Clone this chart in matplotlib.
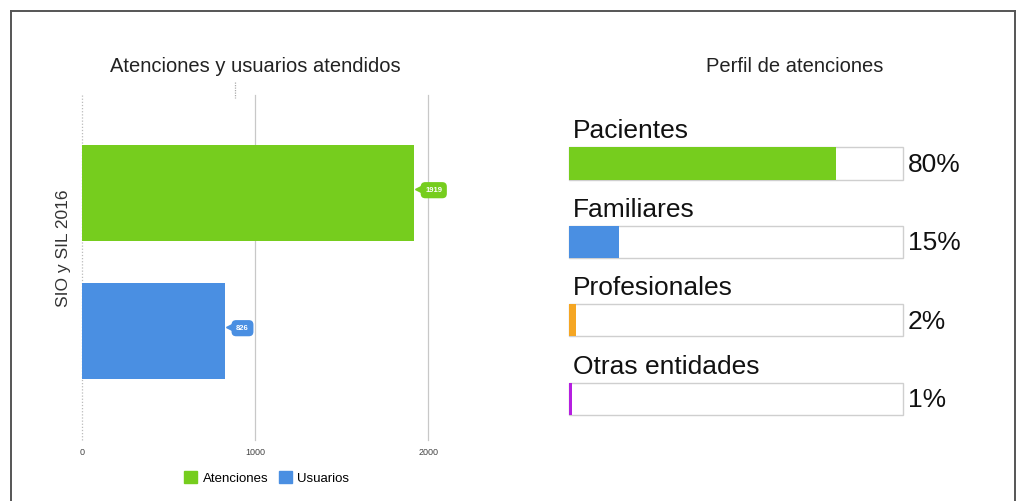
import matplotlib.pyplot as plt
from matplotlib.lines import Line2D
from matplotlib.patches import Patch

# left chart data
series = ['Atenciones', 'Usuarios']
values = [1919, 826]
group_label = 'SIO y SIL 2016'
x_ticks = [0, 1000, 2000]

# right chart data
perfil = ['Pacientes', 'Familiares', 'Profesionales', 'Otras entidades']
perfil_pct = [80, 15, 2, 1]

green = '#76cd1e'
blue = '#4a8fe2'
colors_right = [green, blue, '#f5a623', '#b51fe0']

plt.rcParams['font.family'] = ['Liberation Sans', 'DejaVu Sans']

fig = plt.figure(figsize=(10.18, 5.01), dpi=100)

# outer frame (open at the bottom)
frame = dict(color='#555555', lw=1.4, transform=fig.transFigure)
fig.add_artist(Line2D([0.0108, 0.0108], [0.0, 0.978], **frame))
fig.add_artist(Line2D([0.0108, 0.997], [0.978, 0.978], **frame))
fig.add_artist(Line2D([0.997, 0.997], [0.0, 0.978], **frame))
# small dotted mark under the left title
fig.add_artist(Line2D([0.2305, 0.2305], [1 - 82 / 501, 1 - 98 / 501], color='#aaaaaa',
                      lw=0.9, ls=(0, (1, 1)), transform=fig.transFigure))

# ---- left: horizontal bars ----
ax = fig.add_axes([0.0806, 0.1218, 0.340, 0.6886])
ypos = [0.5, -0.5]
ax.barh(ypos, values, height=0.7, color=[green, blue], zorder=2)
ax.set_xlim(0, 2000)
ax.set_ylim(-1.29, 1.21)
for s in ax.spines.values():
    s.set_visible(False)
for t in x_ticks[1:]:
    ax.axvline(t, color='#c8c8c8', lw=0.9, zorder=1, clip_on=False)
ax.axvline(0, color='#bbbbbb', lw=0.9, ls=(0, (1, 1.5)), zorder=1, clip_on=False)
ax.set_xticks(x_ticks)
ax.set_xticklabels([str(t) for t in x_ticks], fontsize=6.5, color='#444444')
ax.tick_params(axis='x', length=0, pad=6)
ax.set_yticks([])

for y, v, c in zip(ypos, values, [green, blue]):
    ax.plot([v + 28], [y + 0.03], marker='<', ms=6, color=c, clip_on=False, zorder=3)
    ax.annotate(str(v), xy=(v, y), xytext=(8, 2), textcoords='offset points',
                ha='left', va='center', fontsize=5.5, color='white', fontweight='bold',
                bbox=dict(boxstyle='round,pad=0.6', fc=c, ec='none'),
                annotation_clip=False, zorder=3)

fig.text(0.062, 1 - 248 / 501, group_label, rotation=90, ha='center', va='center',
         fontsize=12.5, color='#333333')
fig.text(0.2505, 0.868, 'Atenciones y usuarios atendidos', ha='center', va='center',
         fontsize=14.5, color='#222222')

handles = [Patch(color=green, label=series[0]), Patch(color=blue, label=series[1])]
fig.legend(handles=handles, loc='center', bbox_to_anchor=(0.262, 0.046), ncol=2,
           frameon=False, fontsize=9.5, handlelength=1.0, handleheight=1.0,
           handletextpad=0.4, columnspacing=0.8)

# ---- right: progress bars ----
ax2 = fig.add_axes([0.559, 0.1417, 0.328, 0.6587])
ax2.set_xlim(0, 100)
ax2.set_ylim(3.40, -0.81)
ax2.axis('off')
rows = range(len(perfil))
outline = ax2.barh(rows, [100] * len(perfil), height=0.41, color='white',
                   edgecolor='#cfcfcf', lw=1.0, zorder=1)
for b in outline:
    b.set_clip_on(False)
ax2.barh(rows, perfil_pct, height=0.41, color=colors_right, zorder=2)
for i, (name, p) in enumerate(zip(perfil, perfil_pct)):
    ax2.text(1.2, i - 0.41, name, ha='left', va='center', fontsize=19, color='#111111')
    ax2.text(101.5, i + 0.02, f'{p}%', ha='left', va='center', fontsize=19,
             color='#111111', clip_on=False)

fig.text(0.781, 0.868, 'Perfil de atenciones', ha='center', va='center',
         fontsize=14.5, color='#222222')

fig.savefig('out.png', dpi=100)
